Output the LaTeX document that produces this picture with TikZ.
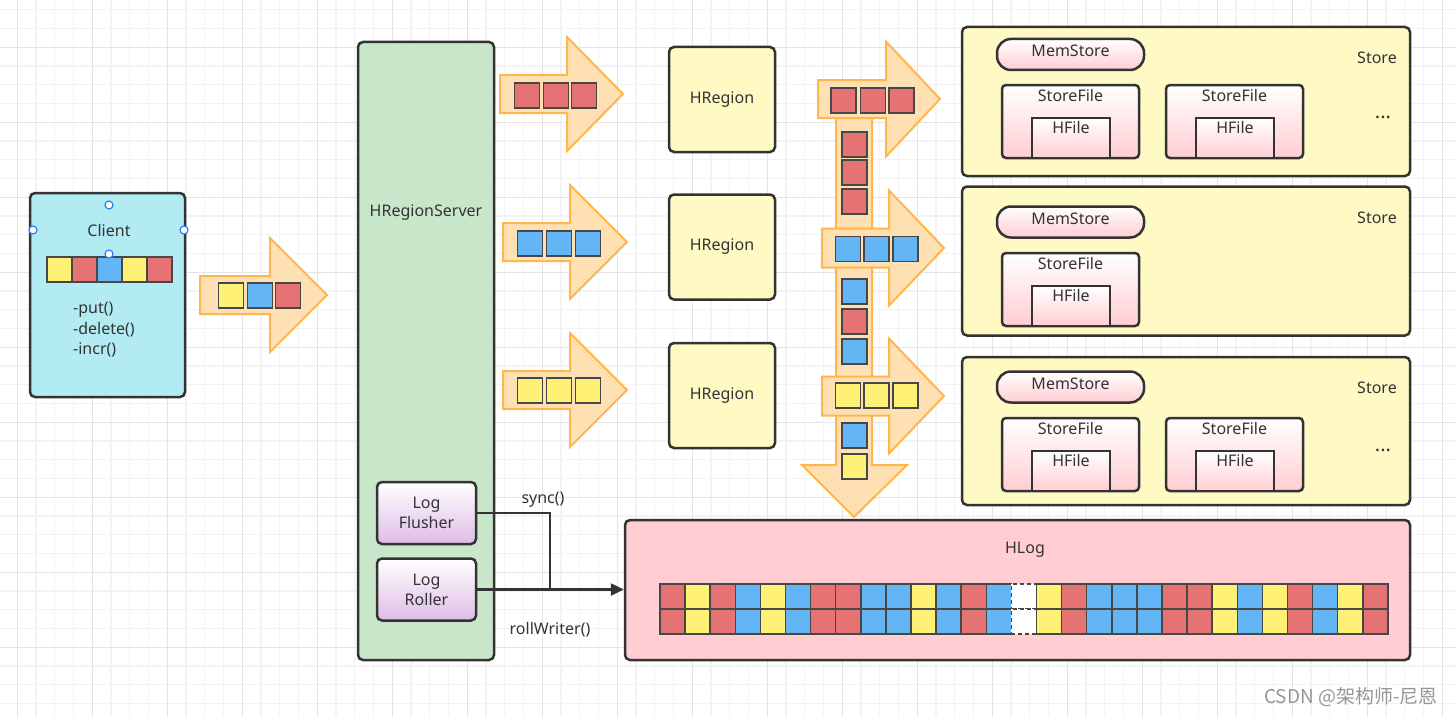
\documentclass[tikz,border=0pt]{standalone}
\usepackage{fontspec}
\setmainfont{Noto Sans}
\newfontfamily\cjkfont{Noto Sans CJK SC}
\usetikzlibrary{shapes,arrows.meta,positioning,calc}
\definecolor{clientcolor}{RGB}{178,235,242}
\definecolor{servercolor}{RGB}{200,230,201}
\definecolor{regioncolor}{RGB}{255,249,196}
\definecolor{pinkcolor}{RGB}{255,205,210}
\definecolor{lavendercolor}{RGB}{222,188,230}
\definecolor{arrowfill}{RGB}{255,224,178}
\definecolor{arrowline}{RGB}{255,183,77}
\definecolor{cellred}{RGB}{229,115,115}
\definecolor{cellblue}{RGB}{100,181,246}
\definecolor{cellyellow}{RGB}{255,241,118}
\definecolor{linecolor}{RGB}{51,51,51}
\definecolor{gridminor}{RGB}{243,243,243}
\definecolor{gridmajor}{RGB}{228,228,228}
\definecolor{handlecolor}{RGB}{41,128,255}
\definecolor{markcolor}{RGB}{150,150,150}

% horizontal block arrow: left, head base, tip, y centre, half shaft, half head
\newcommand{\harrow}[6]{\draw[bigarrow] (#1,#4-#5) -- (#2,#4-#5) -- (#2,#4-#6) -- (#3,#4) -- (#2,#4+#6) -- (#2,#4+#5) -- (#1,#4+#5) -- cycle;}

\begin{document}
\begin{tikzpicture}[x=1pt, y=-1pt,
    txt/.style={text=linecolor, font=\fontsize{16}{20}\selectfont, inner sep=0pt},
    box/.style={txt, draw=linecolor, line width=2.5pt, rounded corners=5pt, align=center},
    clientbox/.style={box, fill=clientcolor, minimum width=155pt, minimum height=204pt},
    serverbox/.style={box, fill=servercolor, minimum width=136pt, minimum height=618pt},
    regionbox/.style={box, fill=regioncolor, minimum width=106pt, minimum height=105pt},
    storebox/.style={box, fill=regioncolor, minimum width=448pt, minimum height=149pt},
    logbox/.style={box, fill=pinkcolor, minimum width=785pt, minimum height=140pt},
    toolbox/.style={box, top color=white, bottom color=lavendercolor, minimum width=99pt, minimum height=62pt},
    memstore/.style={box, top color=white, bottom color=pinkcolor, rounded corners=14pt, minimum width=147pt, minimum height=31pt, text height=12pt, text depth=7pt},
    storefile/.style={box, top color=white, bottom color=pinkcolor, rounded corners=4pt, minimum width=137pt, minimum height=73pt},
    hfile/.style={box, top color=white, bottom color=pinkcolor, sharp corners, minimum width=78pt, minimum height=40pt},
    cell/.style={draw=linecolor!90, line width=1.5pt, minimum size=25pt, inner sep=0pt},
    cellR/.style={cell, fill=cellred},
    cellB/.style={cell, fill=cellblue},
    cellY/.style={cell, fill=cellyellow},
    cellW/.style={cell, fill=white, dash pattern=on 4pt off 3pt},
    bigarrow/.style={draw=arrowline, fill=arrowfill, line width=2pt, line join=miter},
    handle/.style={circle, draw=handlecolor, fill=white, line width=1.2pt, minimum size=8pt, inner sep=0pt},
    link/.style={draw=linecolor, line width=2.5pt}
]

\useasboundingbox (0,0) rectangle (1456,717);
\fill[white] (0,0) rectangle (1456,717);

% Grid
\begin{scope}
\clip (0,0) rectangle (1456,717);
\foreach \i in {0,...,78} \draw[gridminor, line width=1.2pt] ({-1.45+18.75*\i},0) -- ++(0,717);
\foreach \i in {0,...,39} \draw[gridminor, line width=1.2pt] (0,{-8.95+18.75*\i}) -- ++(1456,0);
\foreach \i in {0,...,19} \draw[gridmajor, line width=1.2pt] ({17.3+75*\i},0) -- ++(0,717);
\foreach \i in {0,...,10} \draw[gridmajor, line width=1.2pt] (0,{-27.7+75*\i}) -- ++(1456,0);
\end{scope}

% Client
\node[clientbox] (client) at (107.5,295) {};
\node[txt] (clientlbl) at (109,230) {Client};
\foreach \x/\c [count=\i] in {59.5/Y, 84.5/R, 109.5/B, 134.5/Y, 159.5/R}
    \node[cell\c] (cc\i) at (\x,269.5) {};
\node[txt, anchor=west, align=left, font=\fontsize{16}{20.5}\selectfont] (ops) at (73,330) {-put()\\-delete()\\-incr()};
\node[handle] (h1) at (109,205) {};
\node[handle] (h2) at (33,230) {};
\node[handle] (h3) at (184,230) {};
\node[handle] (h4) at (109,254) {};

% Client -> server
\harrow{200}{270}{327}{295}{19}{57}
\foreach \x/\c [count=\i] in {231/Y, 260/B, 288/R}
    \node[cell\c] (ca\i) at (\x,295.5) {};

% HRegionServer
\node[serverbox] (server) at (426,351) {};
\node[txt] (serverlbl) at (426,213) {HRegionServer};
\node[toolbox] (flusher) at (426.5,513) {Log\\Flusher};
\node[toolbox] (roller) at (426.5,589.5) {Log\\Roller};

% Server -> regions
\harrow{500}{567}{623}{94}{19}{57}
\harrow{503}{570}{627}{242}{19}{57}
\harrow{503}{570}{627}{390}{19}{57}
\foreach \x/\y/\c [count=\i] in {527/95.5/R, 556/95.5/R, 584/95.5/R,
    530/243.5/B, 559/243.5/B, 588/243.5/B,
    530/390.5/Y, 559/390.5/Y, 588/390.5/Y}
    \node[cell\c] (cr\i) at (\x,\y) {};

% HRegions
\node[regionbox] (region1) at (722,99.5) {HRegion};
\node[regionbox] (region2) at (722,247) {HRegion};
\node[regionbox] (region3) at (722,395.5) {HRegion};

% HLog
\node[logbox] (hlog) at (1017.5,590) {};
\node[txt] (hloglbl) at (1025,550) {HLog};
\foreach \c [count=\i] in {R,Y,R,B,Y,B,R,R,B,B,Y,B,R,B,W,Y,R,B,B,B,R,R,Y,B,Y,R,B,Y,R} {
    \node[cell\c, minimum width=25.1pt] (lt\i) at ({660+25.1*(\i-0.5)},596.5) {};
    \node[cell\c, minimum width=25.1pt] (lb\i) at ({660+25.1*(\i-0.5)},621.5) {};
}

% Regions -> stores, and the down arrow to HLog
\draw[bigarrow] (836,105) -- (872,105) -- (872,465) -- (907,465) -- (854,517) -- (802,465) -- (836,465) -- cycle;
\harrow{818}{886}{940}{99}{19}{57.5}
\harrow{822}{889}{944}{248}{19.5}{57.5}
\harrow{822}{889}{944}{396}{19.5}{57.5}
\foreach \x/\y/\c [count=\i] in {843.5/100.5/R, 873/100.5/R, 901.5/100.5/R,
    854.5/144.5/R, 854.5/172.5/R, 854.5/201.5/R,
    848/249/B, 876.5/249/B, 905.5/249/B,
    854.5/291.5/B, 854.5/321.5/R, 854.5/351.5/B,
    848/395.5/Y, 876.5/395.5/Y, 905.5/395.5/Y,
    854.5/435.5/B, 854.5/466.5/Y}
    \node[cell\c] (cs\i) at (\x,\y) {};

% Stores
\node[storebox] (store1) at (1186,101.5) {};
\node[storebox] (store2) at (1186,261) {};
\node[storebox, minimum height=148pt] (store3) at (1186,431) {};
\node[txt] (storelbl1) at (1377,58) {Store};
\node[txt] (storelbl2) at (1377,218) {Store};
\node[txt] (storelbl3) at (1377,388) {Store};
\node[txt, font=\bfseries\fontsize{20}{24}\selectfont] (more1) at (1383,117) {...};
\node[txt, font=\bfseries\fontsize{20}{24}\selectfont] (more3) at (1383,450) {...};

\node[memstore] (mem1) at (1070.5,54.5) {MemStore};
\node[memstore] (mem2) at (1070.5,222) {MemStore};
\node[memstore] (mem3) at (1070.5,387) {MemStore};

\node[storefile] (sf1) at (1070.5,121.5) {};
\node[storefile] (sf2) at (1234.5,121.5) {};
\node[storefile] (sf3) at (1070.5,289.5) {};
\node[storefile] (sf4) at (1070.5,454.5) {};
\node[storefile] (sf5) at (1234.5,454.5) {};
\foreach \s/\x/\y in {1/1071/138, 2/1235/138, 3/1071/306, 4/1071/471, 5/1235/471} {
    \node[txt, below=5pt of sf\s.north] (sflbl\s) {StoreFile};
    \node[hfile] (hf\s) at (\x,\y) {};
    \node[txt, below=4pt of hf\s.north] (hflbl\s) {HFile};
}

% Log connectors
\coordinate (bend) at (550,589.5);
\draw[link] (flusher.east) -| (bend);
\draw[link, -{Triangle[length=13pt,width=12pt]}] (roller.east) -- (roller.east -| hlog.west);
\node[txt] (synclbl) at (543,500) {sync()};
\node[txt] (rolllbl) at (550,630) {rollWriter()};

% Watermark
\node[text=markcolor, font=\cjkfont\fontsize{19}{22}\selectfont, inner sep=0pt] (mark) at (1351,697) {CSDN @架构师-尼恩};

\end{tikzpicture}
\end{document}
